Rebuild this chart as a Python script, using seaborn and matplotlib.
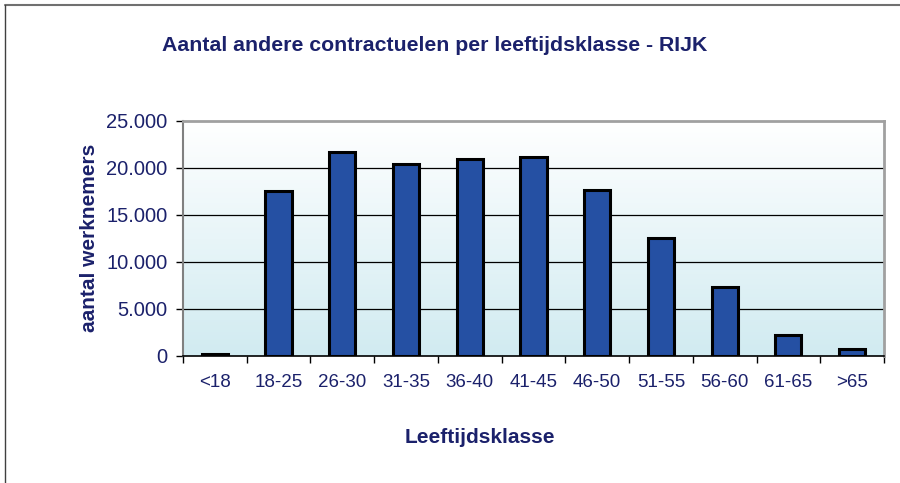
import numpy as np
import matplotlib
matplotlib.use('Agg')
import matplotlib.pyplot as plt
import seaborn as sns
from matplotlib.colors import LinearSegmentedColormap
from matplotlib.lines import Line2D

# leeftijdsklassen en aantallen
klassen = ['<18', '18-25', '26-30', '31-35', '36-40', '41-45',
           '46-50', '51-55', '56-60', '61-65', '>65']
aantallen = [150, 17550, 21750, 20400, 21000, 21200,
             17700, 12500, 7300, 2200, 700]
y_ticks = [0, 5000, 10000, 15000, 20000, 25000]
y_labels = ['0', '5.000', '10.000', '15.000', '20.000', '25.000']

navy = '#1b216b'
bar_blue = '#2550a3'

def main():
    sns.set_style('white')
    plt.rcParams['font.family'] = ['Liberation Sans', 'DejaVu Sans']

    fig = plt.figure(figsize=(9, 4.83), dpi=100)
    ax = fig.add_axes([0.2033, 0.2636, 0.7789, 0.4859])

    # achtergrond verloop wit -> lichtblauw
    cmap = LinearSegmentedColormap.from_list('bg', ['#d1ebf1', '#ffffff'])
    grad = np.linspace(0, 1, 256).reshape(-1, 1)
    ax.imshow(grad, aspect='auto', cmap=cmap, origin='lower',
              extent=[0, 1, 0, 1], transform=ax.transAxes, zorder=0)

    sns.barplot(x=klassen, y=aantallen, color=bar_blue, saturation=1,
                edgecolor='black', linewidth=2.2, width=0.41, ax=ax, zorder=3)

    for v in y_ticks[1:-1]:
        ax.axhline(v, color='black', lw=0.9, zorder=1)

    ax.set_xlim(-0.5, len(klassen) - 0.5)
    ax.set_ylim(0, 25000)
    ax.set_yticks(y_ticks)
    ax.set_yticklabels(y_labels)

    # tickmarks tussen de klassen, labels in het midden
    ax.set_xticks(np.arange(-0.5, len(klassen), 1.0))
    ax.set_xticklabels([])
    ax.set_xticks(np.arange(len(klassen)), minor=True)
    ax.set_xticklabels(klassen, minor=True)
    ax.tick_params(axis='x', which='major', direction='out', length=5,
                   width=1, color='black', bottom=True)
    ax.tick_params(axis='x', which='minor', length=0, pad=13,
                   labelsize=13.5, labelcolor=navy)
    ax.tick_params(axis='y', direction='out', length=5, width=1,
                   color='black', left=True, labelsize=14.5,
                   labelcolor=navy, pad=6)

    for side in ['top', 'right']:
        ax.spines[side].set_color('#a0a0a0')
        ax.spines[side].set_linewidth(2)
    ax.spines['bottom'].set_color('black')
    ax.spines['bottom'].set_linewidth(1.2)
    ax.spines['left'].set_color('#808080')
    ax.spines['left'].set_linewidth(1.5)

    ax.set_xlabel('Leeftijdsklasse', fontsize=15, fontweight='bold', color=navy)
    ax.xaxis.set_label_coords(0.424, -0.307)
    ax.set_ylabel('aantal werknemers', fontsize=15, fontweight='bold', color=navy)
    ax.yaxis.set_label_coords(-0.12, 0.5)

    fig.text(0.483, 0.906, 'Aantal andere contractuelen per leeftijdsklasse - RIJK',
             ha='center', va='center', fontsize=15.3, fontweight='bold',
             color=navy)

    # kader van de grafiek
    fig.add_artist(Line2D([0.006, 1.0], [0.99, 0.99], color='#707070', lw=1.5))
    fig.add_artist(Line2D([0.006, 0.006], [0.0, 0.99], color='#404040', lw=1))

    fig.savefig('out.png', dpi=100)

if __name__ == '__main__':
    main()
